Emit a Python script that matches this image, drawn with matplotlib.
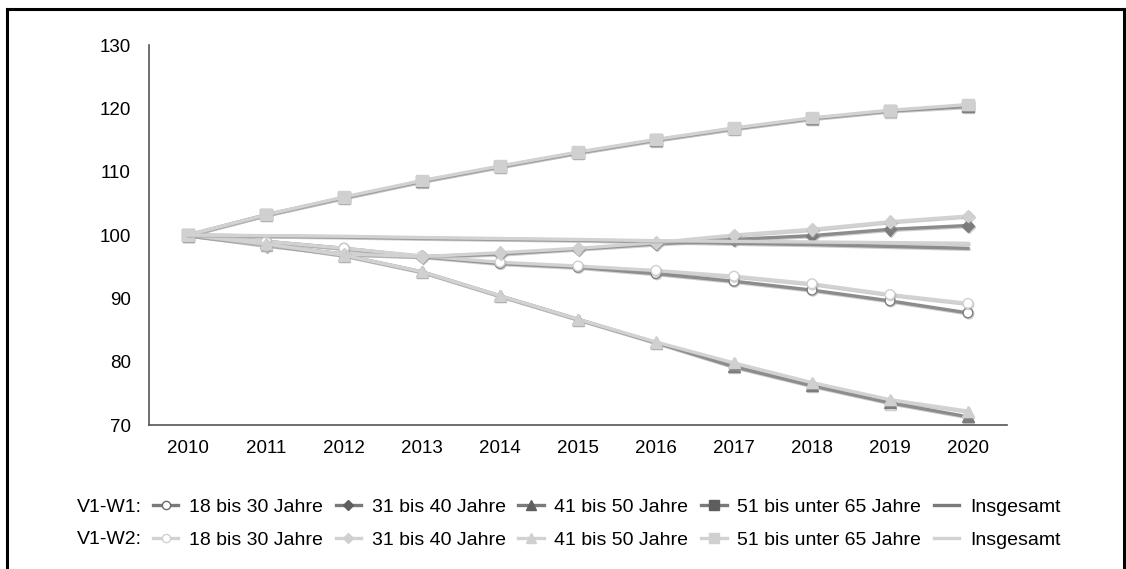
import matplotlib
matplotlib.use("Agg")
import matplotlib.pyplot as plt
from matplotlib.lines import Line2D
import matplotlib.patheffects as pe

years = ["2010", "2011", "2012", "2013", "2014", "2015", "2016", "2017", "2018", "2019", "2020"]

# V1-W1
w1_18_30 = [100, 99.0, 97.9, 96.6, 95.5, 94.9, 93.9, 92.7, 91.3, 89.6, 87.7]
w1_31_40 = [100, 98.4, 97.0, 96.6, 97.0, 97.8, 98.6, 99.3, 99.9, 100.9, 101.5]
w1_41_50 = [100, 98.6, 96.8, 94.2, 90.4, 86.7, 83.0, 79.2, 76.2, 73.5, 71.3]
w1_51_65 = [100, 103.2, 105.9, 108.5, 110.8, 113.0, 115.0, 116.8, 118.4, 119.6, 120.3]
w1_total = [100, 99.85, 99.7, 99.5, 99.35, 99.2, 98.95, 98.7, 98.5, 98.2, 97.9]

# V1-W2
w2_18_30 = [100, 99.0, 97.9, 96.7, 95.7, 95.1, 94.4, 93.5, 92.3, 90.6, 89.2]
w2_31_40 = [100, 98.4, 97.0, 96.6, 97.2, 97.9, 98.8, 100.0, 100.9, 102.1, 103.0]
w2_41_50 = [100, 98.6, 96.8, 94.2, 90.4, 86.7, 83.1, 79.8, 76.7, 74.0, 72.2]
w2_51_65 = [100, 103.2, 106.0, 108.6, 110.9, 113.1, 115.1, 116.9, 118.5, 119.7, 120.6]
w2_total = [100, 99.9, 99.8, 99.6, 99.45, 99.3, 99.1, 99.0, 98.9, 98.8, 98.7]

labels = ["18 bis 30 Jahre", "31 bis 40 Jahre", "41 bis 50 Jahre", "51 bis unter 65 Jahre", "Insgesamt"]

plt.rcParams['font.family'] = ['Liberation Sans', 'DejaVu Sans']

W, H = 1126, 569
fig = plt.figure(figsize=(W / 100, H / 100), dpi=100)
ax = fig.add_axes([149 / W, (H - 425) / H, (1007 - 149) / W, (425 - 45) / H])

x = list(range(len(years)))
dark_line = "#8c8c8c"
dark_mark = "#7c7c7c"
light_line = "#d2d2d2"
light_mark = "#d0d0d0"
shadow = [pe.SimpleLineShadow(offset=(0.6, -0.8), shadow_color="#9a9a9a", alpha=0.5), pe.Normal()]

markers = ["o", "D", "^", "s", None]
msizes = [7, 6.5, 8, 8, 0]
series_w1 = [w1_18_30, w1_31_40, w1_41_50, w1_51_65, w1_total]
series_w2 = [w2_18_30, w2_31_40, w2_41_50, w2_51_65, w2_total]

handles1, handles2 = [], []
for data, mk, ms, lab in zip(series_w1, markers, msizes, labels):
    face = "white" if mk == "o" else dark_mark
    ax.plot(x, data, color=dark_line, lw=2.4, marker=mk, ms=ms, mfc=face,
            mec=dark_mark, mew=1.0, zorder=2, path_effects=shadow)
    handles1.append(Line2D([], [], color="#7a7a7a", lw=2.4, marker=mk, ms=ms * 0.85,
                           mfc=("white" if mk == "o" else "#5e5e5e"),
                           mec=("#6a6a6a" if mk == "o" else "#5e5e5e"), mew=1.0, label=lab))
for data, mk, ms, lab in zip(series_w2, markers, msizes, labels):
    face = "white" if mk == "o" else light_mark
    ax.plot(x, data, color=light_line, lw=2.4, marker=mk, ms=ms, mfc=face,
            mec=light_mark, mew=1.0, zorder=3, path_effects=shadow)
    handles2.append(Line2D([], [], color=light_line, lw=2.4, marker=mk, ms=ms * 0.85,
                           mfc=face, mec=light_mark, mew=1.0, label=lab))

ax.set_xlim(-0.5, len(years) - 0.5)
ax.set_ylim(70, 130)
ax.set_yticks([70, 80, 90, 100, 110, 120, 130])
ax.set_xticks(x)
ax.set_xticklabels(years)
ax.tick_params(axis="both", length=0, labelsize=13.5, colors="black")
ax.tick_params(axis="y", pad=13)
ax.tick_params(axis="x", pad=11)
for s in ["top", "right"]:
    ax.spines[s].set_visible(False)
for s in ["left", "bottom"]:
    ax.spines[s].set_color("#555555")
    ax.spines[s].set_linewidth(1.2)

legkw = dict(ncol=5, frameon=False, fontsize=14, handlelength=1.3, handletextpad=0.55,
             columnspacing=0.66, borderpad=0, borderaxespad=0, loc="center left")
leg1 = fig.legend(handles=handles1, bbox_to_anchor=(153 / W, (H - 507) / H), **legkw)
leg2 = fig.legend(handles=handles2, bbox_to_anchor=(153 / W, (H - 540) / H), **legkw)
fig.text(142 / W, (H - 507) / H, "V1-W1:", ha="right", va="center", fontsize=14)
fig.text(142 / W, (H - 540) / H, "V1-W2:", ha="right", va="center", fontsize=14)

# outer frame
frame = dict(color="black", lw=2.2, transform=fig.transFigure, clip_on=False)
fig.add_artist(Line2D([7 / W, 7 / W], [0, (H - 9) / H], **frame))
fig.add_artist(Line2D([7 / W, 1124 / W], [(H - 9) / H, (H - 9) / H], **frame))
fig.add_artist(Line2D([1124 / W, 1124 / W], [0, (H - 9) / H], **frame))

fig.savefig("out.png", dpi=100)
